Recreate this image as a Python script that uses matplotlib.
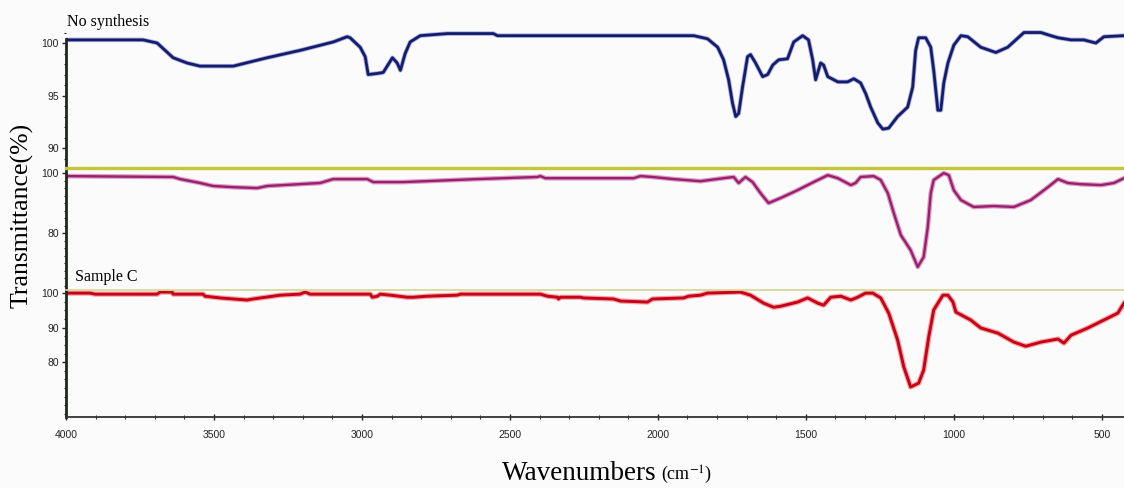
import matplotlib
matplotlib.use("Agg")
import matplotlib.pyplot as plt
from matplotlib.ticker import MultipleLocator

#%% Data (wavenumber in cm-1, transmittance in %)
# No synthesis
wn1 = [4000, 3740, 3692, 3638, 3591, 3547, 3435, 3320, 3209, 3097, 3050, 3040, 3006, 2989,
       2979, 2948, 2928, 2897, 2881, 2870, 2854, 2837, 2803, 2711, 2556, 2542, 1879, 1832,
       1798, 1778, 1761, 1748, 1737, 1727, 1714, 1697, 1687, 1670, 1646, 1629, 1612, 1592,
       1562, 1541, 1511, 1491, 1477, 1467, 1450, 1440, 1426, 1392, 1359, 1338, 1315, 1298,
       1281, 1257, 1240, 1220, 1190, 1156, 1139, 1129, 1119, 1095, 1078, 1068, 1054, 1044,
       1034, 1020, 1000, 976, 953, 909, 858, 818, 763, 706, 672, 648, 604, 561, 520, 493, 425]
t1 = [100.3, 100.3, 100.0, 98.6, 98.1, 97.8, 97.8, 98.6, 99.3, 100.1, 100.6, 100.5, 99.6, 98.7,
      97.0, 97.1, 97.2, 98.6, 98.1, 97.4, 99.0, 100.1, 100.7, 100.9, 100.9, 100.7, 100.7, 100.4,
      99.6, 98.4, 96.5, 94.3, 93.0, 93.3, 95.8, 98.7, 98.9, 98.1, 96.8, 97.0, 97.9, 98.4,
      98.5, 100.1, 100.7, 100.3, 98.4, 96.5, 98.1, 97.9, 96.8, 96.3, 96.3, 96.6, 96.2, 95.2,
      93.9, 92.4, 91.8, 91.9, 93.0, 93.9, 95.8, 99.3, 100.5, 100.5, 99.6, 97.4, 93.6, 93.6,
      96.2, 98.1, 99.8, 100.7, 100.6, 99.6, 99.1, 99.6, 101.0, 101.0, 100.7, 100.5, 100.3, 100.3,
      100.0, 100.6, 100.7]

# middle sample
wn2 = [4000, 3638, 3614, 3547, 3503, 3435, 3354, 3320, 3266, 3141, 3097, 2982, 2962, 2860,
       2610, 2407, 2397, 2380, 2082, 2059, 2018, 1947, 1856, 1778, 1744, 1727, 1704, 1680,
       1653, 1626, 1585, 1528, 1474, 1426, 1392, 1348, 1332, 1315, 1271, 1247, 1223, 1203,
       1179, 1146, 1122, 1102, 1088, 1078, 1068, 1034, 1017, 1000, 976, 933, 865, 797, 740,
       682, 648, 615, 571, 503, 459, 425]
t2 = [99.0, 98.7, 98.0, 96.7, 95.7, 95.3, 95.0, 95.7, 96.0, 96.7, 98.0, 98.0, 97.0, 97.0,
      98.0, 98.7, 99.0, 98.3, 98.3, 99.0, 98.7, 98.0, 97.3, 98.3, 98.7, 96.7, 98.7, 97.0,
      93.3, 90.0, 91.7, 94.3, 97.0, 99.3, 98.3, 96.0, 96.7, 98.7, 99.0, 97.7, 93.3, 86.7,
      79.3, 74.3, 68.7, 72.0, 82.0, 93.3, 97.7, 100.0, 99.3, 94.3, 91.0, 88.7, 89.0, 88.7, 91.0,
      95.3, 98.0, 96.7, 96.3, 96.0, 96.7, 98.3]

# Sample C
wn3 = [4000, 3919, 3902, 3692, 3682, 3641, 3638, 3537, 3530, 3479, 3388, 3368, 3276, 3209,
       3192, 3175, 2972, 2965, 2948, 2938, 2904, 2847, 2826, 2779, 2678, 2667, 2397, 2373,
       2339, 2336, 2329, 2262, 2252, 2150, 2126, 2035, 2018, 1913, 1896, 1856, 1832, 1721,
       1687, 1643, 1609, 1585, 1528, 1494, 1460, 1440, 1416, 1382, 1348, 1325, 1298, 1274,
       1247, 1220, 1190, 1169, 1146, 1119, 1102, 1085, 1068, 1037, 1020, 1003, 993, 943, 909,
       851, 797, 757, 706, 648, 628, 604, 547, 493, 446, 425]
t3 = [100.0, 100.0, 99.7, 99.7, 100.3, 100.3, 99.7, 99.7, 99.1, 98.6, 98.0, 98.3, 99.4, 99.7,
      100.3, 99.7, 99.7, 98.8, 99.1, 99.7, 99.4, 98.8, 98.8, 99.1, 99.4, 99.7, 99.7, 99.1,
      98.8, 98.3, 98.8, 98.8, 98.6, 98.3, 97.7, 97.4, 98.3, 98.6, 99.1, 99.4, 100.0, 100.3,
      99.4, 97.1, 95.9, 96.2, 97.4, 98.6, 97.1, 96.5, 98.8, 99.1, 98.0, 98.8, 100.0, 100.0,
      98.6, 94.2, 86.4, 78.6, 72.8, 73.9, 77.7, 87.2, 95.1, 99.4, 99.4, 97.4, 94.5, 92.2, 89.9,
      88.4, 85.8, 84.6, 85.8, 86.7, 85.5, 87.8, 89.9, 92.2, 94.2, 97.1]

x_ticks = [4000, 3500, 3000, 2500, 2000, 1500, 1000, 500]
y_ticks1 = [100, 95, 90]
y_ticks2 = [100, 80]
y_ticks3 = [100, 90, 80]

#%% Figure
tick_font = ['Liberation Sans Narrow', 'Liberation Sans']
serif = 'Liberation Serif'
plt.rcParams['mathtext.fontset'] = 'stix'

fig = plt.figure(figsize=(11.24, 4.88), dpi=100, facecolor='#fbfbfb')
left, width = 66/1124, 1 - 66/1124
ax1 = fig.add_axes([left, 1 - 168/488, width, 138/488])
ax2 = fig.add_axes([left, 1 - 290/488, width, 122/488], sharex=ax1)
ax3 = fig.add_axes([left, 1 - 417/488, width, 127/488], sharex=ax1)

ax1.plot(wn1, t1, color='#a9acd6', lw=3.2, solid_joinstyle='round')
ax1.plot(wn1, t1, color='#141c6e', lw=2.0, solid_joinstyle='round')
ax2.plot(wn2, t2, color='#dc9cc4', lw=3.4, solid_joinstyle='round')
ax2.plot(wn2, t2, color='#98206c', lw=1.7, solid_joinstyle='round')
ax3.plot(wn3, t3, color='#f0a6a6', lw=3.8, solid_joinstyle='round')
ax3.plot(wn3, t3, color='#c80018', lw=2.1, solid_joinstyle='round')

ax1.set_ylim(88.1, 101.24)
ax2.set_ylim(61.0, 101.7)
ax3.set_ylim(64.1, 100.9)
ax1.set_xlim(4000, 425)

for ax, yt in [(ax1, y_ticks1), (ax2, y_ticks2), (ax3, y_ticks3)]:
    ax.set_facecolor('none')
    ax.set_yticks(yt)
    ax.set_yticklabels([str(v) for v in yt], family=tick_font, fontsize=7.5)
    ax.tick_params(axis='y', direction='out', length=3, width=1, pad=2, colors='#222222')
    ax.tick_params(axis='y', which='minor', direction='out', length=1.5, width=0.8, color='#222222')
    ax.spines['right'].set_visible(False)
    ax.spines['left'].set_color('#1c2a1c')
    ax.spines['left'].set_linewidth(2.0)
    ax.spines['bottom'].set_visible(False)
    ax.tick_params(axis='x', which='both', bottom=False, labelbottom=False)

ax1.yaxis.set_minor_locator(MultipleLocator(1))
ax2.yaxis.set_minor_locator(MultipleLocator(2.5))
ax3.yaxis.set_minor_locator(MultipleLocator(2.5))
ax1.spines['top'].set_visible(False)
ax1.spines['left'].set_bounds(88.1, 100.4)
ax2.spines['top'].set_color('#c3c53a')
ax2.spines['top'].set_linewidth(2.4)
ax3.spines['top'].set_color('#d6d597')
ax3.spines['top'].set_linewidth(1.2)

# bottom wavenumber axis
ax3.spines['bottom'].set_visible(True)
ax3.spines['bottom'].set_color('#333333')
ax3.spines['bottom'].set_linewidth(1.3)
ax3.set_xticks(x_ticks)
ax3.xaxis.set_minor_locator(MultipleLocator(100))
ax3.tick_params(axis='x', which='major', bottom=True, labelbottom=True, direction='inout',
                length=5, width=1, pad=7, colors='#222222')
ax3.tick_params(axis='x', which='minor', bottom=True, direction='inout', length=3, width=0.8,
                color='#333333')
for lab in ax3.get_xticklabels():
    lab.set_family(tick_font)
    lab.set_fontsize(7.5)

# sample names and axis titles
fig.text(67/1124, 1 - 22/488, 'No synthesis', family=serif, fontsize=11.5, ha='left', va='center')
fig.text(75/1124, 1 - 277/488, 'Sample C', family=serif, fontsize=11.5, ha='left', va='center')
fig.text(22/1124, 1 - 215/488, 'Transmittance(%)', family=serif, fontsize=18.5,
         rotation=90, ha='center', va='center')
fig.text(657/1124, 8/488, 'Wavenumbers', family=serif, fontsize=19.5, ha='right', va='baseline')
fig.text(661/1124, 8/488, r'(cm$^{\mathrm{-1}}$)', family=serif, fontsize=13,
         ha='left', va='baseline')

fig.savefig('out.png', dpi=100, facecolor=fig.get_facecolor())
